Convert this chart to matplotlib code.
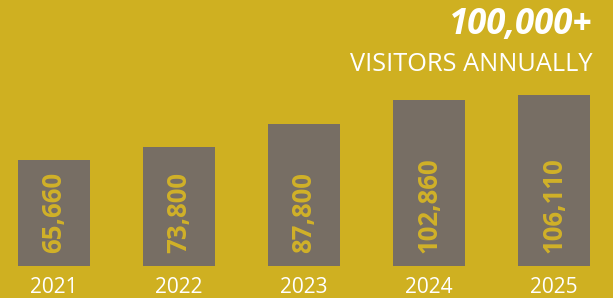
import matplotlib
matplotlib.use("Agg")
import matplotlib.pyplot as plt

years = ["2021", "2022", "2023", "2024", "2025"]
visitors = [65660, 73800, 87800, 102860, 106110]
headline = "100,000+"
subtitle = "VISITORS ANNUALLY"

BG = "#cfb021"
BAR = "#776e64"
VAL = "#d1b128"

fig = plt.figure(figsize=(6.13, 2.98), dpi=100)
fig.patch.set_facecolor(BG)
ax = fig.add_axes([0, 32 / 298, 1, 266 / 298])
ax.set_facecolor(BG)
x = list(range(len(years)))
ax.bar(x, visitors, width=0.576, color=BAR)
ax.set_xlim(-0.432, -0.432 + 613 / 125)
ax.set_ylim(0, 266 * 620)
ax.axis("off")

for xi, v, yr in zip(x, visitors, years):
    ax.annotate(f"{v:,}", xy=(xi, 0), xytext=(0, 9.4), textcoords="offset points",
                rotation=90, ha="center", va="bottom", color=VAL,
                fontsize=18.5, fontweight="bold", family="Open Sans")
    ax.annotate(yr, xy=(xi, 0), xytext=(0, -15.5), textcoords="offset points",
                ha="center", va="center", color="white", fontsize=15, family="Open Sans")

fig.text(592 / 613, 1 - 7 / 298, headline, ha="right", va="top", color="white",
         fontsize=25, fontweight="bold", fontstyle="italic", family="Open Sans")
fig.text(592 / 613, 1 - 64.5 / 298, subtitle, ha="right", va="center", color="white",
         fontsize=18.3, family="Open Sans")

fig.savefig("out.png", dpi=100, facecolor=BG)
